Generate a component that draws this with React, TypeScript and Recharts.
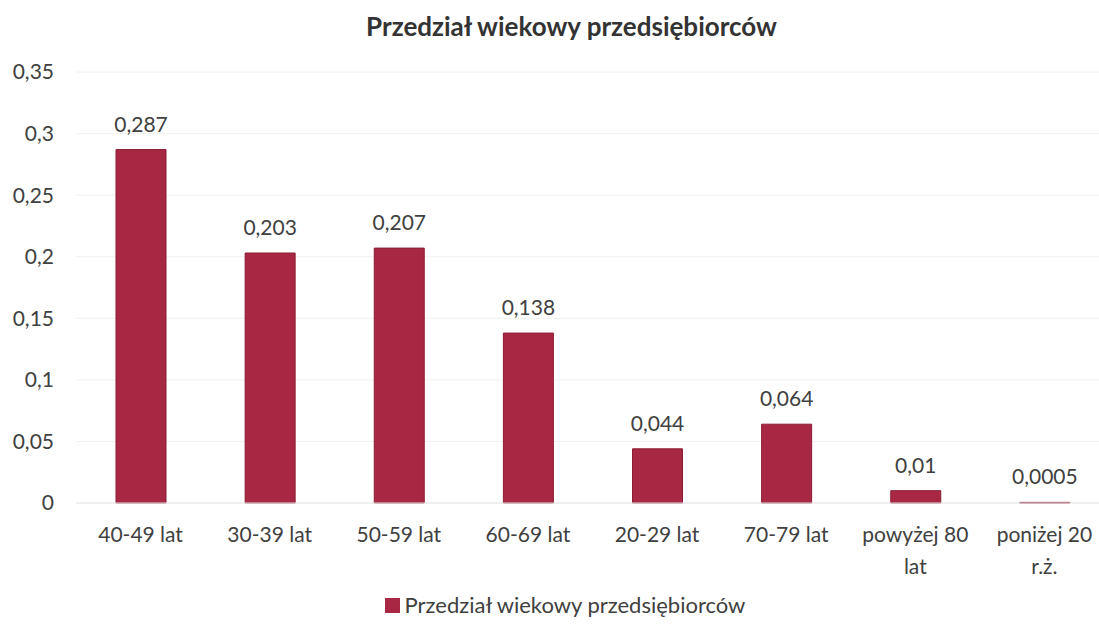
import React from 'react';
import { BarChart, Bar, XAxis, YAxis, CartesianGrid, LabelList } from 'recharts';

const categories = ['40-49 lat', '30-39 lat', '50-59 lat', '60-69 lat', '20-29 lat', '70-79 lat', 'powyżej 80 lat', 'poniżej 20 r.ż.'];
const shares = [0.287, 0.203, 0.207, 0.138, 0.044, 0.064, 0.01, 0.0005];
const yTicks = [0, 0.05, 0.1, 0.15, 0.2, 0.25, 0.3, 0.35];

const seriesName = 'Przedział wiekowy przedsiębiorców';
const font = 'Lato, "Open Sans", sans-serif';
const barColor = '#A82843';

const data = categories.map((c, i) => ({ name: c, value: shares[i] }));

const fmt = (v: number) => String(v).replace('.', ',');

const CategoryTick = (props: any) => {
    const { x, y, payload } = props;
    const label: string = payload.value;
    let lines = [label];
    if (label.length > 10) {
        const k = label.lastIndexOf(' ');
        lines = [label.slice(0, k), label.slice(k + 1)];
    }
    return (
        <text x={x} y={y} textAnchor="middle" fill="#404040" fontSize={21} fontFamily={font}>
            {lines.map((l, i) => (
                <tspan key={i} x={x} dy={i === 0 ? 39 : 32}>{l}</tspan>
            ))}
        </text>
    );
};

export default function App() {
    return (
        <div style={{ position: 'fixed', left: 0, top: 0, width: 1099, height: 627, overflow: 'hidden', background: '#fff' }}>
            <div style={{ position: 'absolute', top: 10, left: 0, width: 1143, textAlign: 'center', fontFamily: font, fontWeight: 700, fontSize: 26, color: '#333' }}>
                {seriesName}
            </div>
            <BarChart
                width={1110}
                height={627}
                data={data}
                margin={{ top: 72, right: 1, bottom: 84, left: 0 }}
            >
                <CartesianGrid vertical={false} stroke="#f0f0f0" />
                <XAxis
                    dataKey="name"
                    tick={<CategoryTick />}
                    tickLine={false}
                    tickSize={0}
                    tickMargin={0}
                    axisLine={{ stroke: '#e8e8e8' }}
                    interval={0}
                    height={40}
                />
                <YAxis
                    width={76}
                    domain={[0, 0.35]}
                    ticks={yTicks}
                    tickFormatter={fmt}
                    tickLine={false}
                    axisLine={false}
                    tickSize={0}
                    tickMargin={22}
                    tick={{ fill: '#404040', fontSize: 21, fontFamily: font }}
                />
                <Bar dataKey="value" name={seriesName} fill={barColor} stroke="#8C1C33" strokeWidth={1} barSize={50} isAnimationActive={false}>
                    <LabelList dataKey="value" position="top" offset={18} formatter={(v: any) => fmt(v)} style={{ fill: '#404040', fontSize: 21, fontFamily: font }} />
                </Bar>
            </BarChart>
            <div style={{ position: 'absolute', top: 590, left: 0, width: 1130, textAlign: 'center', fontFamily: font, fontSize: 22, color: '#404040', lineHeight: '30px' }}>
                <span style={{ display: 'inline-block', width: 15, height: 15, background: barColor, marginRight: 5, verticalAlign: 'middle', position: 'relative', top: -2 }} />
                {seriesName}
            </div>
        </div>
    );
}
